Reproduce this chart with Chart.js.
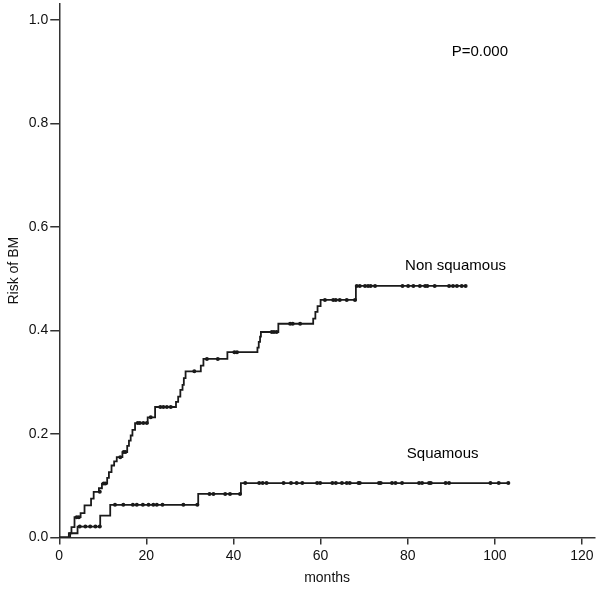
<!DOCTYPE html>
<html>
<head>
<meta charset="utf-8">
<script src="https://cdn.jsdelivr.net/npm/chart.js@4/dist/chart.umd.min.js"></script>
<style>
  html, body { margin: 0; padding: 0; background: #fff; }
  #wrap { width: 600px; height: 589px; }
</style>
</head>
<body>
<div id="wrap"><canvas id="grafico"></canvas></div>
<script>
// step curves: month where the cumulative risk jumps, and the new level
const nonSqMonths = [0, 2.2, 2.8, 3.5, 4.9, 5.8, 7.3, 7.9, 9.1, 9.8, 11.0, 11.4, 12.0, 12.6, 13.2, 14.5, 15.6, 16.0, 16.4, 16.8, 17.4,
  20.3, 22.0, 26.8, 27.3, 27.8, 28.3, 28.6, 29.0, 32.5, 33.1, 38.6, 45.5, 45.8, 46.1, 46.3, 50.3, 58.3, 58.8, 59.3, 60.0, 68.1, 93.3];
const nonSqRisk = [0, 0.008, 0.02, 0.039, 0.047, 0.062, 0.075, 0.088, 0.095, 0.104, 0.115, 0.126, 0.139, 0.147, 0.155, 0.165, 0.177, 0.187, 0.197, 0.208, 0.221,
  0.232, 0.252, 0.262, 0.272, 0.285, 0.295, 0.308, 0.321, 0.332, 0.345, 0.358, 0.367, 0.378, 0.388, 0.397, 0.413, 0.423, 0.436, 0.447, 0.459, 0.486, 0.486];

const sqMonths = [0, 2.5, 4.2, 9.4, 11.7, 31.9, 41.7, 103.1];
const sqRisk = [0, 0.008, 0.021, 0.042, 0.063, 0.084, 0.105, 0.105];

// censored observations
const nonSqCensMonths = [4.0, 4.5, 9.3, 10.2, 10.6, 14.0, 14.8, 15.2, 18.0, 18.5, 19.3, 20.1, 21.0, 23.2, 23.9, 24.7, 25.6, 31.0, 33.9, 36.4, 40.2, 40.8,
  48.8, 49.3, 49.9, 53.0, 53.6, 55.3, 61.0, 62.9, 63.5, 64.4, 66.0, 67.9,
  68.3, 69.0, 70.2, 70.9, 71.5, 72.5, 78.8, 80.1, 81.3, 82.8, 84.0, 84.5, 86.2, 89.5, 90.4, 91.3, 92.4, 93.3];
const nonSqCensRisk = [0.039, 0.039, 0.088, 0.104, 0.104, 0.155, 0.165, 0.165, 0.221, 0.221, 0.221, 0.221, 0.232, 0.252, 0.252, 0.252, 0.252, 0.321, 0.345, 0.345, 0.358, 0.358,
  0.397, 0.397, 0.397, 0.413, 0.413, 0.413, 0.459, 0.459, 0.459, 0.459, 0.459, 0.459,
  0.486, 0.486, 0.486, 0.486, 0.486, 0.486, 0.486, 0.486, 0.486, 0.486, 0.486, 0.486, 0.486, 0.486, 0.486, 0.486, 0.486, 0.486];

const sqCensMonths = [4.7, 6.0, 7.1, 8.3, 9.3, 12.8, 14.7, 16.9, 17.8, 19.2, 20.5, 21.6, 22.4, 23.7, 28.5, 31.7, 34.5, 35.4, 38.1, 39.2, 41.5,
  42.7, 45.9, 46.7, 47.6, 51.5, 53.2, 54.5, 55.8, 59.2, 59.9, 62.7, 63.5, 64.9, 66.0, 66.7, 68.7, 69.0, 73.4, 73.8, 76.4, 77.2, 78.7,
  82.6, 83.3, 84.9, 85.3, 88.7, 89.5, 99.0, 100.9, 103.1];
const sqCensRisk = [0.021, 0.021, 0.021, 0.021, 0.021, 0.063, 0.063, 0.063, 0.063, 0.063, 0.063, 0.063, 0.063, 0.063, 0.063, 0.063, 0.084, 0.084, 0.084, 0.084, 0.084,
  0.105, 0.105, 0.105, 0.105, 0.105, 0.105, 0.105, 0.105, 0.105, 0.105, 0.105, 0.105, 0.105, 0.105, 0.105, 0.105, 0.105, 0.105, 0.105, 0.105, 0.105, 0.105,
  0.105, 0.105, 0.105, 0.105, 0.105, 0.105, 0.105, 0.105, 0.105];

const xTicks = [0, 20, 40, 60, 80, 100, 120];
const yTicks = [0, 0.2, 0.4, 0.6, 0.8, 1.0];

// text notes on the plot: [text, month (left edge), risk (middle)]
const notas = [
  ['P=0.000', 90.1, 0.939],
  ['Non squamous', 79.4, 0.524],
  ['Squamous', 79.8, 0.162]
];

const pares = (xs, ys) => xs.map((x, i) => ({ x: x, y: ys[i] }));
const tinta = '#1a1a1a';
const fonte = 'Arial, "Liberation Sans", sans-serif';

const notasPlugin = {
  id: 'notas',
  afterDatasetsDraw(chart) {
    const { ctx, scales } = chart;
    ctx.save();
    ctx.fillStyle = '#000';
    ctx.font = '15px ' + fonte;
    ctx.textAlign = 'left';
    ctx.textBaseline = 'middle';
    notas.forEach(n => {
      ctx.fillText(n[0], scales.x.getPixelForValue(n[1]), scales.y.getPixelForValue(n[2]));
    });
    ctx.restore();
  }
};

const ctx = document.getElementById('grafico').getContext('2d');

new Chart(ctx, {
  type: 'line',
  data: {
    datasets: [
      {
        data: pares(nonSqMonths, nonSqRisk),
        stepped: true,
        borderColor: tinta,
        borderWidth: 1.8,
        pointRadius: 0,
        fill: false
      },
      {
        data: pares(sqMonths, sqRisk),
        stepped: true,
        borderColor: tinta,
        borderWidth: 1.8,
        pointRadius: 0,
        fill: false
      },
      {
        data: pares(nonSqCensMonths, nonSqCensRisk),
        showLine: false,
        pointRadius: 2,
        pointBackgroundColor: tinta,
        pointBorderColor: tinta,
        pointBorderWidth: 0
      },
      {
        data: pares(sqCensMonths, sqCensRisk),
        showLine: false,
        pointRadius: 2,
        pointBackgroundColor: tinta,
        pointBorderColor: tinta,
        pointBorderWidth: 0
      }
    ]
  },
  options: {
    responsive: true,
    maintainAspectRatio: false,
    animation: false,
    layout: {
      padding: { left: 6, right: 5, top: 0, bottom: 2 }
    },
    plugins: {
      legend: { display: false },
      tooltip: { enabled: false }
    },
    scales: {
      x: {
        type: 'linear',
        min: 0,
        max: 123,
        afterBuildTicks: scale => { scale.ticks = xTicks.map(v => ({ value: v })); },
        border: { display: true, color: '#333', width: 1.5 },
        grid: { display: true, drawOnChartArea: false, drawTicks: true, tickLength: 7, color: '#333', lineWidth: 1.5 },
        ticks: { color: '#111', font: { size: 14, family: fonte }, padding: 3, maxRotation: 0 },
        title: { display: true, text: 'months', color: '#111', font: { size: 14, family: fonte }, padding: { top: 3, bottom: 0 } }
      },
      y: {
        type: 'linear',
        min: 0,
        max: 1.031,
        afterBuildTicks: scale => { scale.ticks = yTicks.map(v => ({ value: v })); },
        afterFit: scale => { scale.paddingTop = 0; },
        border: { display: true, color: '#333', width: 1.5 },
        grid: { display: true, drawOnChartArea: false, drawTicks: true, tickLength: 9, color: '#333', lineWidth: 1.5 },
        ticks: { color: '#111', font: { size: 14, family: fonte }, padding: 2, callback: v => v.toFixed(1) },
        title: { display: true, text: 'Risk of BM', color: '#111', font: { size: 14, family: fonte }, padding: { top: 0, bottom: 4 } }
      }
    }
  },
  plugins: [notasPlugin]
});
</script>
</body>
</html>
